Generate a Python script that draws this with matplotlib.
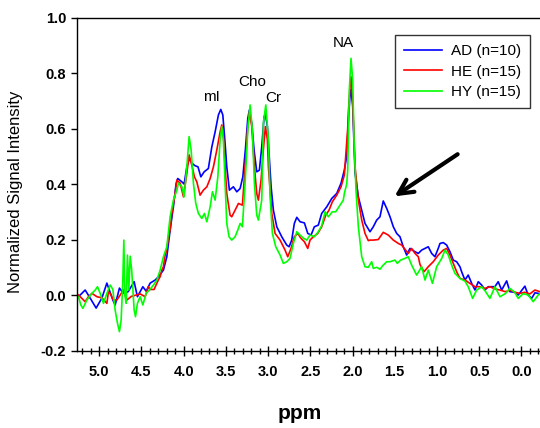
import matplotlib
matplotlib.use("Agg")
import matplotlib.pyplot as plt
from matplotlib.ticker import MultipleLocator

plt.rcParams['font.family'] = ['Liberation Sans', 'DejaVu Sans']

# AD (n=10) spectrum, ppm / normalized intensity
ad_ppm = [5.245, 5.225, 5.166, 5.107, 5.036, 4.968, 4.909, 4.838, 4.811, 4.760, 4.716, 4.657,
          4.586, 4.547, 4.483, 4.444, 4.396, 4.337, 4.298, 4.239, 4.199, 4.160, 4.121, 4.090,
          4.070, 4.021, 3.994, 3.962, 3.931, 3.903, 3.864, 3.830, 3.796, 3.757, 3.707, 3.666,
          3.627, 3.588, 3.560, 3.536, 3.512, 3.489, 3.458, 3.411, 3.370, 3.331, 3.299, 3.269,
          3.240, 3.221, 3.193, 3.166, 3.134, 3.103, 3.075, 3.047, 3.032, 3.008, 2.990, 2.964,
          2.937, 2.897, 2.838, 2.779, 2.751, 2.720, 2.689, 2.660, 2.621, 2.570, 2.530, 2.491,
          2.452, 2.405, 2.365, 2.305, 2.246, 2.187, 2.136, 2.097, 2.069, 2.050, 2.030, 2.018,
          1.998, 1.970, 1.931, 1.891, 1.852, 1.793, 1.754, 1.714, 1.675, 1.636, 1.595, 1.556,
          1.517, 1.477, 1.438, 1.399, 1.359, 1.320, 1.260, 1.221, 1.181, 1.142, 1.103, 1.063,
          1.024, 0.985, 0.964, 0.925, 0.885, 0.846, 0.807, 0.767, 0.728, 0.708, 0.669, 0.630,
          0.589, 0.550, 0.511, 0.471, 0.432, 0.393, 0.314, 0.275, 0.234, 0.175, 0.136, 0.080,
          0.038, -0.041, -0.080, -0.121, -0.160, -0.199, -0.219]
ad_val = [-0.004, 0.000, 0.018, -0.011, -0.047, -0.011, 0.043, -0.018, -0.036, 0.025, 0.007, 0.012,
          0.048, -0.006, 0.030, 0.014, 0.043, 0.054, 0.066, 0.090, 0.138, 0.234, 0.318, 0.400,
          0.420, 0.408, 0.400, 0.462, 0.493, 0.475, 0.466, 0.462, 0.426, 0.444, 0.456, 0.534,
          0.588, 0.649, 0.669, 0.649, 0.559, 0.462, 0.378, 0.390, 0.372, 0.384, 0.426, 0.523,
          0.637, 0.667, 0.619, 0.523, 0.444, 0.450, 0.534, 0.643, 0.652, 0.607, 0.520, 0.390,
          0.306, 0.246, 0.210, 0.180, 0.174, 0.198, 0.258, 0.280, 0.264, 0.260, 0.222, 0.216,
          0.246, 0.252, 0.294, 0.318, 0.348, 0.366, 0.403, 0.450, 0.500, 0.620, 0.720, 0.741,
          0.680, 0.439, 0.354, 0.306, 0.258, 0.228, 0.246, 0.270, 0.282, 0.339, 0.312, 0.282,
          0.246, 0.222, 0.210, 0.174, 0.144, 0.168, 0.156, 0.150, 0.162, 0.168, 0.174, 0.150,
          0.138, 0.168, 0.186, 0.189, 0.180, 0.156, 0.126, 0.120, 0.102, 0.084, 0.054, 0.072,
          0.042, 0.018, 0.048, 0.036, 0.018, 0.030, 0.030, 0.048, 0.018, 0.051, 0.012, 0.010,
          0.000, 0.032, 0.000, -0.012, 0.008, 0.006, 0.004]

# HE (n=15)
he_ppm = [5.245, 5.205, 5.166, 5.127, 5.086, 5.027, 4.968, 4.909, 4.890, 4.870, 4.831, 4.791,
          4.751, 4.712, 4.672, 4.620, 4.560, 4.515, 4.456, 4.417, 4.396, 4.350, 4.300, 4.278,
          4.258, 4.239, 4.219, 4.199, 4.180, 4.160, 4.140, 4.121, 4.101, 4.080, 4.041, 4.002,
          3.962, 3.935, 3.903, 3.872, 3.844, 3.805, 3.766, 3.725, 3.686, 3.647, 3.607, 3.568,
          3.548, 3.529, 3.509, 3.489, 3.450, 3.430, 3.391, 3.351, 3.304, 3.272, 3.240, 3.221,
          3.193, 3.162, 3.134, 3.115, 3.083, 3.056, 3.032, 3.008, 2.996, 2.956, 2.917, 2.858,
          2.799, 2.767, 2.728, 2.689, 2.649, 2.609, 2.570, 2.530, 2.503, 2.464, 2.412, 2.365,
          2.317, 2.278, 2.239, 2.187, 2.136, 2.097, 2.057, 2.050, 2.030, 2.018, 1.998, 1.970,
          1.931, 1.891, 1.852, 1.813, 1.793, 1.754, 1.695, 1.636, 1.576, 1.517, 1.458, 1.418,
          1.379, 1.340, 1.300, 1.260, 1.221, 1.201, 1.154, 1.103, 1.044, 0.985, 0.925, 0.885,
          0.846, 0.807, 0.767, 0.728, 0.669, 0.609, 0.550, 0.490, 0.432, 0.373, 0.314, 0.254,
          0.190, 0.136, 0.080, 0.018, -0.040, -0.100, -0.160, -0.219]
he_val = [0.000, -0.012, -0.024, -0.006, 0.006, -0.006, -0.010, -0.030, 0.012, 0.006, -0.018, -0.018,
          0.000, 0.018, -0.018, -0.005, 0.000, 0.004, -0.006, 0.030, 0.020, 0.020, 0.054, 0.066,
          0.090, 0.102, 0.144, 0.162, 0.210, 0.234, 0.294, 0.330, 0.366, 0.414, 0.403, 0.354,
          0.439, 0.505, 0.468, 0.426, 0.408, 0.360, 0.378, 0.390, 0.420, 0.462, 0.523, 0.588,
          0.613, 0.571, 0.462, 0.366, 0.288, 0.282, 0.306, 0.330, 0.324, 0.462, 0.607, 0.660,
          0.607, 0.462, 0.366, 0.342, 0.414, 0.523, 0.607, 0.560, 0.462, 0.294, 0.222, 0.198,
          0.162, 0.138, 0.168, 0.210, 0.222, 0.204, 0.192, 0.168, 0.198, 0.210, 0.222, 0.246,
          0.288, 0.306, 0.336, 0.360, 0.390, 0.432, 0.600, 0.655, 0.750, 0.787, 0.703, 0.462,
          0.342, 0.270, 0.222, 0.196, 0.198, 0.198, 0.200, 0.226, 0.216, 0.198, 0.186, 0.180,
          0.165, 0.150, 0.168, 0.150, 0.138, 0.110, 0.084, 0.102, 0.120, 0.144, 0.162, 0.168,
          0.144, 0.114, 0.084, 0.060, 0.054, 0.042, 0.030, 0.030, 0.024, 0.030, 0.022, 0.018,
          0.012, 0.018, 0.010, 0.006, 0.010, 0.004, 0.018, 0.012]

# HY (n=15)
hy_ppm = [5.245, 5.217, 5.193, 5.146, 5.086, 5.047, 5.020, 4.988, 4.949, 4.909, 4.870, 4.838,
          4.811, 4.783, 4.760, 4.740, 4.720, 4.708, 4.696, 4.680, 4.665, 4.649, 4.633, 4.615,
          4.601, 4.586, 4.570, 4.547, 4.515, 4.483, 4.444, 4.405, 4.357, 4.317, 4.278, 4.239,
          4.199, 4.160, 4.121, 4.080, 4.062, 4.020, 3.994, 3.962, 3.935, 3.911, 3.884, 3.856,
          3.825, 3.785, 3.754, 3.725, 3.686, 3.659, 3.627, 3.595, 3.568, 3.548, 3.529, 3.509,
          3.489, 3.462, 3.430, 3.391, 3.359, 3.331, 3.304, 3.272, 3.240, 3.213, 3.186, 3.162,
          3.134, 3.115, 3.075, 3.056, 3.027, 2.996, 2.976, 2.949, 2.909, 2.858, 2.819, 2.779,
          2.740, 2.701, 2.660, 2.621, 2.582, 2.542, 2.503, 2.452, 2.405, 2.365, 2.325, 2.286,
          2.239, 2.199, 2.148, 2.109, 2.097, 2.069, 2.057, 2.038, 2.018, 1.998, 1.982, 1.959,
          1.931, 1.891, 1.852, 1.813, 1.773, 1.754, 1.714, 1.675, 1.636, 1.595, 1.556, 1.497,
          1.470, 1.430, 1.379, 1.340, 1.300, 1.241, 1.181, 1.142, 1.103, 1.054, 1.004, 0.944,
          0.905, 0.866, 0.826, 0.787, 0.728, 0.669, 0.630, 0.578, 0.530, 0.471, 0.430, 0.373,
          0.314, 0.254, 0.190, 0.136, 0.080, 0.038, -0.020, -0.080, -0.140, -0.199, -0.219]
hy_val = [-0.006, -0.036, -0.048, -0.018, 0.006, 0.018, 0.030, 0.006, -0.030, 0.006, 0.036, 0.020,
          -0.054, -0.102, -0.132, -0.090, 0.054, 0.198, 0.000, -0.030, 0.144, 0.018, 0.140, 0.090,
          0.018, -0.054, -0.078, -0.030, -0.006, -0.036, 0.006, 0.018, 0.036, 0.054, 0.090, 0.138,
          0.174, 0.282, 0.342, 0.378, 0.403, 0.390, 0.354, 0.462, 0.571, 0.523, 0.403, 0.330,
          0.294, 0.276, 0.294, 0.264, 0.318, 0.372, 0.342, 0.426, 0.559, 0.607, 0.560, 0.403,
          0.258, 0.210, 0.198, 0.210, 0.234, 0.258, 0.246, 0.403, 0.595, 0.685, 0.595, 0.403,
          0.288, 0.270, 0.342, 0.619, 0.685, 0.559, 0.354, 0.222, 0.174, 0.144, 0.114, 0.120,
          0.132, 0.186, 0.228, 0.216, 0.205, 0.198, 0.216, 0.210, 0.228, 0.250, 0.300, 0.282,
          0.300, 0.300, 0.324, 0.342, 0.366, 0.400, 0.450, 0.739, 0.853, 0.775, 0.559, 0.378,
          0.246, 0.138, 0.102, 0.100, 0.120, 0.096, 0.100, 0.093, 0.108, 0.120, 0.120, 0.126,
          0.114, 0.126, 0.132, 0.138, 0.108, 0.072, 0.102, 0.054, 0.090, 0.042, 0.102, 0.132,
          0.162, 0.144, 0.108, 0.078, 0.060, 0.050, 0.030, -0.012, 0.018, 0.030, 0.015, -0.012,
          0.030, -0.006, 0.005, 0.024, 0.010, -0.012, 0.005, 0.000, -0.024, 0.000, 0.005]

peak_labels = ["mI", "Cho", "Cr", "NA"]
peak_ppm = [3.666, 3.186, 2.937, 2.109]
peak_y = [0.715, 0.769, 0.711, 0.907]

fig = plt.figure(figsize=(5.40, 4.28), dpi=100)
ax = fig.add_axes([0.143, 0.181, 0.857, 0.778])

ax.plot(ad_ppm, ad_val, color="#0000ff", lw=1.2, label="AD (n=10)")
ax.plot(he_ppm, he_val, color="#ff0000", lw=1.2, label="HE (n=15)")
ax.plot(hy_ppm, hy_val, color="#00ff00", lw=1.2, label="HY (n=15)")

for lab, x, y in zip(peak_labels, peak_ppm, peak_y):
    ax.text(x, y, lab, ha="center", va="center", fontsize=11)

ax.annotate("", xy=(1.53, 0.350), xytext=(0.728, 0.513),
            arrowprops=dict(arrowstyle="->", lw=3, color="black", mutation_scale=26))

ax.set_xlim(5.26, -0.22)
ax.set_ylim(-0.2, 1.0)
ax.xaxis.set_minor_locator(MultipleLocator(0.1))
ax.yaxis.set_major_locator(MultipleLocator(0.2))
ax.set_xticks([5.0, 4.5, 4.0, 3.5, 3.0, 2.5, 2.0, 1.5, 1.0, 0.5, 0.0])
ax.set_xticklabels(["5.0", "4.5", "4.0", "3.5", "3.0", "2.5", "2.0", "1.5", "1.0", "0.5", "0.0"])
ax.yaxis.set_major_formatter(plt.FuncFormatter(lambda v, p: f"{v:.1f}"))

ax.tick_params(axis="x", which="major", direction="inout", length=7, width=1, pad=7,
               labelsize=10.5)
ax.tick_params(axis="x", which="minor", direction="inout", length=4, width=1)
ax.tick_params(axis="y", which="major", direction="out", length=4, width=1, labelsize=10.5,
               pad=4)
for t in ax.get_xticklabels() + ax.get_yticklabels():
    t.set_fontweight("bold")

ax.spines["right"].set_visible(False)
for s in ["left", "top", "bottom"]:
    ax.spines[s].set_linewidth(1.0)

ax.set_xlabel("ppm", fontsize=15, fontweight="bold")
ax.xaxis.set_label_coords(0.48, -0.16)
ax.set_ylabel("Normalized Signal Intensity", fontsize=12)
ax.yaxis.set_label_coords(-0.118, 0.476)

leg = ax.legend(loc="upper right", bbox_to_anchor=(0.978, 0.947), fontsize=11,
                frameon=True, fancybox=False, handlelength=2.5, borderpad=0.6,
                labelspacing=0.42, handletextpad=0.55, borderaxespad=0)
leg.get_frame().set_edgecolor("black")
leg.get_frame().set_linewidth(1.0)

fig.savefig("out.png", dpi=100)
